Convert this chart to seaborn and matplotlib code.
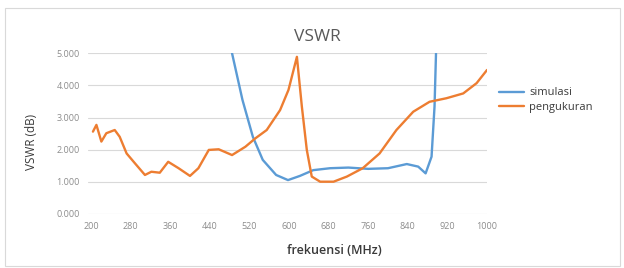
import numpy as np
import pandas as pd
import matplotlib
matplotlib.use("Agg")
import matplotlib.pyplot as plt
import seaborn as sns
from matplotlib.patches import Rectangle

# measured VSWR (pengukuran)
freq_ukur = [204, 211, 221, 231, 248, 258, 272, 289, 309, 322, 339, 356, 377, 400, 417,
             438, 458, 485, 512, 532, 555, 582, 599, 616, 626, 636, 646, 663, 690, 717,
             749, 783, 817, 851, 884, 918, 952, 979, 1000]
vswr_ukur = [2.56, 2.77, 2.25, 2.51, 2.61, 2.40, 1.88, 1.57, 1.21, 1.31, 1.28, 1.62, 1.42,
             1.18, 1.42, 1.99, 2.01, 1.83, 2.09, 2.35, 2.61, 3.23, 3.86, 4.89, 3.34, 1.99,
             1.16, 1.00, 1.00, 1.16, 1.42, 1.88, 2.61, 3.18, 3.49, 3.60, 3.75, 4.07, 4.48]

# simulated VSWR (simulasi)
freq_sim = [485, 506, 527, 547, 574, 598, 622, 649, 683, 720, 760, 800, 838, 861, 876,
            888, 894, 897]
vswr_sim = [5.0, 3.55, 2.40, 1.68, 1.21, 1.05, 1.18, 1.36, 1.42, 1.44, 1.40, 1.42, 1.55,
            1.47, 1.26, 1.78, 3.34, 5.0]

x_ticks = [200, 280, 360, 440, 520, 600, 680, 760, 840, 920, 1000]
y_ticks = [0, 1, 2, 3, 4, 5]

sns.set_theme(style="white")
plt.rcParams['font.family'] = ['Open Sans', 'DejaVu Sans']

W, H = 624, 268
fig = plt.figure(figsize=(W / 100, H / 100), dpi=100)
ax = fig.add_axes([88 / W, 1 - 213.8 / H, (487 - 88) / W, (213.8 - 53.3) / H])

df_sim = pd.DataFrame({"f": freq_sim, "v": vswr_sim})
df_ukur = pd.DataFrame({"f": freq_ukur, "v": vswr_ukur})
sns.lineplot(data=df_sim, x="f", y="v", ax=ax, color="#5B9BD5", linewidth=1.7,
             label="simulasi", sort=False)
sns.lineplot(data=df_ukur, x="f", y="v", ax=ax, color="#ED7D31", linewidth=1.7,
             label="pengukuran", sort=False)

ax.set_xlim(194, 1000)
ax.set_ylim(0, 5)
ax.set_xticks(x_ticks)
ax.set_xticklabels([str(t) for t in x_ticks])
ax.set_yticks(y_ticks)
ax.set_yticklabels([f"{t:.3f}" for t in y_ticks])
ax.tick_params(axis="both", labelsize=6.5, colors="#8C8C8C", length=0, pad=6)
ax.grid(axis="y", color="#D9D9D9", linewidth=0.8)
ax.set_axisbelow(True)
for s in ax.spines.values():
    s.set_visible(False)

ax.set_xlabel("frekuensi (MHz)", fontsize=9, color="#3A3A3A", fontweight="semibold")
ax.xaxis.set_label_coords((334 - 88) / (487 - 88), -0.19)
ax.set_ylabel("VSWR (dB)", fontsize=8.5, color="#3A3A3A")
ax.yaxis.set_label_coords(-0.125, 0.45)

fig.text(317 / W, 1 - 37 / H, "VSWR", ha="center", va="center", fontsize=12.5,
         color="#595959")

leg = ax.legend(loc="upper left", bbox_to_anchor=(495 / W, 1 - 83 / H),
                bbox_transform=fig.transFigure, frameon=False, fontsize=8,
                handlelength=2.2, handletextpad=0.5, labelspacing=0.35,
                borderaxespad=0)
for t in leg.get_texts():
    t.set_color("#3A3A3A")

fig.patches.append(Rectangle((5 / W, 1 - 266 / H), 615 / W, 258 / H,
                             transform=fig.transFigure, fill=False,
                             edgecolor="#D9D9D9", linewidth=0.8))

fig.savefig("out.png", dpi=100)
